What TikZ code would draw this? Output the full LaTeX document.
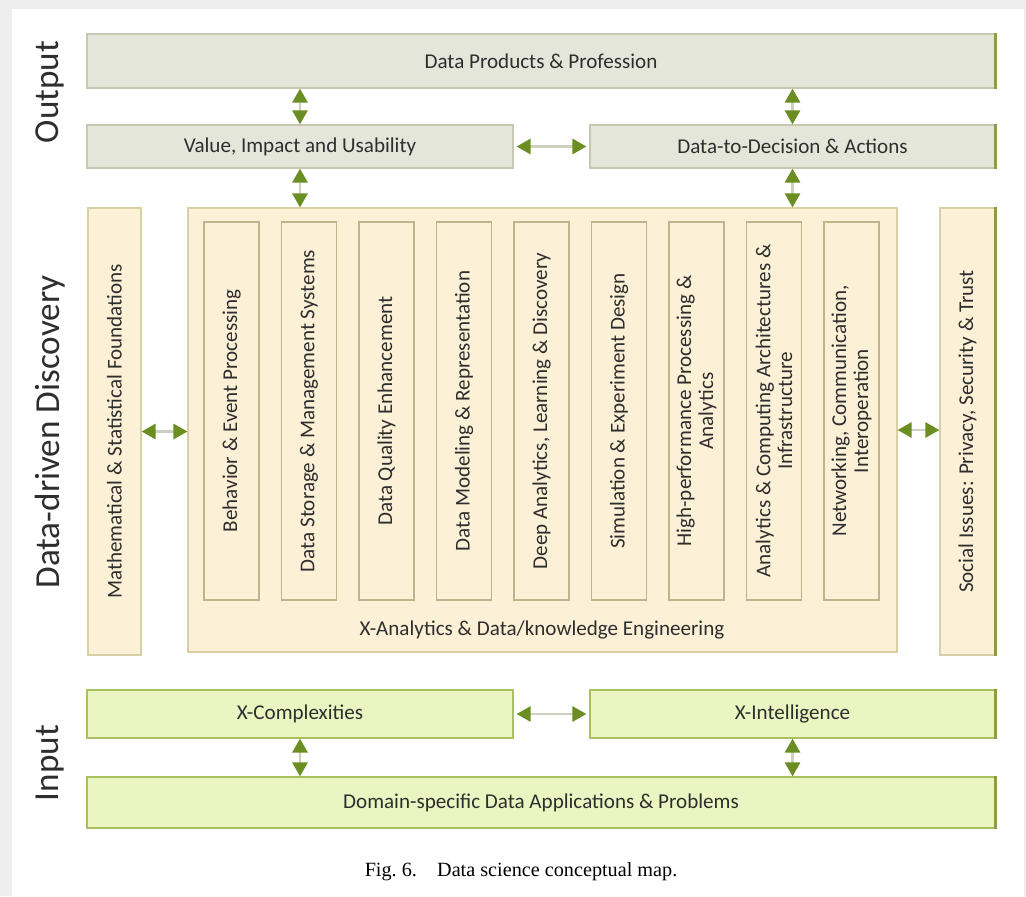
\documentclass[tikz,border=0pt]{standalone}
\usepackage{fontspec}
\setmainfont{Carlito}
\newfontfamily\capfont{Liberation Serif}
\usetikzlibrary{arrows.meta}
\definecolor{pagegray}{HTML}{EEEEEE}
\definecolor{outfill}{HTML}{E5E6DA}
\definecolor{outline}{HTML}{C6C8B4}
\definecolor{discfill}{HTML}{FCF0D7}
\definecolor{discline}{HTML}{D9CEA4}
\definecolor{subline}{HTML}{BDB68C}
\definecolor{infill}{HTML}{EBF5C1}
\definecolor{inline}{HTML}{A8C060}
\definecolor{grn}{HTML}{6B8E23}
\definecolor{lnk}{HTML}{CBD1BC}
\definecolor{shade}{HTML}{8C9C48}
\definecolor{ink}{HTML}{2E2E2E}

\begin{document}
\begin{tikzpicture}[x=0.02cm,y=-0.02cm,
  every node/.style={inner sep=0pt,text=ink,font=\fontsize{12}{12.5}\selectfont},
  outbox/.style={draw=outline,fill=outfill,line width=0.7pt,minimum height=0.86cm},
  discbox/.style={draw=discline,fill=discfill,line width=0.7pt},
  subbox/.style={draw=subline,fill=discfill,line width=0.7pt,rotate=90,
    minimum width=7.56cm,minimum height=1.1cm,align=center},
  inbox/.style={draw=inline,fill=infill,line width=0.7pt,minimum height=0.96cm},
  part/.style={rotate=90,font=\fontsize{20}{20}\selectfont},
  arr/.style={draw=lnk,line width=1.6pt,
    {Triangle[length=0.28cm,width=0.3cm,color=grn]}-{Triangle[length=0.28cm,width=0.3cm,color=grn]}},
  rim/.style={draw=shade,line width=1.4pt}]
  % page
  \fill[pagegray] (0,0) rectangle (1026,896);
  \fill[white] (12,9) rectangle (1024,896);
  % output
  \node[outbox,minimum width=18.16cm,minimum height=1.08cm] (dp) at (541,61) {Data Products \& Profession};
  \node[outbox,minimum width=8.52cm] (vi) at (300,146.5) {Value, Impact and Usability};
  \node[outbox,minimum width=8.1cm] (dd) at (792.5,146.5) {Data-to-Decision \& Actions};
  % discovery
  \node[discbox,minimum width=14.18cm,minimum height=8.88cm] (xa) at (542.5,430) {};
  \node (xalab) at (542,630) {X-Analytics \& Data/knowledge Engineering};
  \node[discbox,rotate=90,minimum width=8.94cm,minimum height=1.06cm] (msf) at (114.5,431.5) {Mathematical \& Statistical Foundations};
  \node[discbox,rotate=90,minimum width=8.94cm,minimum height=1.1cm] (soc) at (967.5,431.5) {Social Issues: Privacy, Security \& Trust};
  \foreach \t [count=\i from 0] in {Behavior \& Event Processing,
      Data Storage \& Management Systems, Data Quality Enhancement,
      Data Modeling \& Representation, {Deep Analytics, Learning \& Discovery},
      Simulation \& Experiment Design, High-performance Processing \&\\Analytics,
      Analytics \& Computing Architectures \&\\Infrastructure,
      {Networking, Communication,\\Interoperation}}
    \node[subbox] (s\i) at ({231.5+\i*77.5},411) {\t};
  % input
  \node[inbox,minimum width=8.52cm] (xc) at (300,714) {X-Complexities};
  \node[inbox,minimum width=8.1cm] (xi) at (792.5,714) {X-Intelligence};
  \node[inbox,minimum width=18.16cm,minimum height=1.02cm] (dom) at (541,802.5) {Domain-specific Data Applications \& Problems};
  % darker right edges
  \foreach \n in {dp,dd,xi,dom}
    \draw[rim] (\n.north east) -- (\n.south east);
  \draw[rim] (soc.south west) -- (soc.south east);
  % layer names
  \node[part] (out) at (50,92) {Output};
  \node[part] (ddd) at (50,432) {Data-driven Discovery};
  \node[part] (inp) at (50,763) {Input};
  % links
  \draw[arr] (vi.north) -- (vi.north |- dp.south);
  \draw[arr] (dd.north) -- (dd.north |- dp.south);
  \draw[arr,shorten <=0.06cm,shorten >=0.06cm] (vi.east) -- (dd.west);
  \draw[arr] (vi.south) -- (vi.south |- xa.north);
  \draw[arr] (dd.south) -- (dd.south |- xa.north);
  \draw[arr] (msf.south) -- (msf.south -| xa.west);
  \draw[arr] (xa.east) -- (xa.east -| soc.north);
  \draw[arr,shorten <=0.06cm,shorten >=0.06cm] (xc.east) -- (xi.west);
  \draw[arr] (xc.south) -- (xc.south |- dom.north);
  \draw[arr] (xi.south) -- (xi.south |- dom.north);
  % caption
  \node[font=\capfont\fontsize{11.5}{12}\selectfont,text=black] (cap) at (521,872) {Fig.~6.\quad Data science conceptual map.};
\end{tikzpicture}
\end{document}
